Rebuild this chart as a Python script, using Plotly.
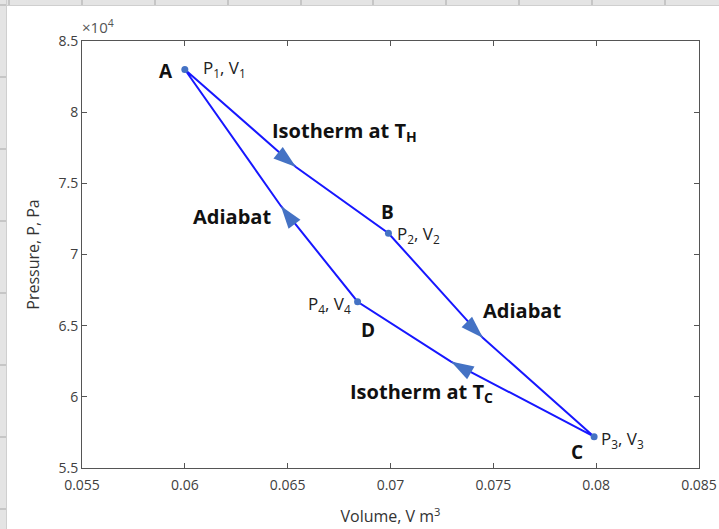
import plotly.graph_objects as go

# ---- data ----
state_names = ["A", "B", "C", "D"]
state_labels = ["P<sub>1</sub>, V<sub>1</sub>", "P<sub>2</sub>, V<sub>2</sub>",
                "P<sub>3</sub>, V<sub>3</sub>", "P<sub>4</sub>, V<sub>4</sub>"]
V_state = [0.0600, 0.0699, 0.0799, 0.0684]     # m^3
P_state = [83000, 71490, 57200, 66680]         # Pa

# points on each process curve where the direction arrow tips sit (A->B, B->C, C->D, D->A)
process_names = ["Isotherm at T<sub>H</sub>", "Adiabat", "Isotherm at T<sub>C</sub>", "Adiabat"]
V_arrow = [0.0654, 0.0745, 0.07294, 0.06467]
P_arrow = [76150, 64130, 62480, 73410]

x_ticks = [0.055, 0.06, 0.065, 0.07, 0.075, 0.08, 0.085]
x_ticklabels = ["0.055", "0.06", "0.065", "0.07", "0.075", "0.08", "0.085"]
y_ticks = [55000, 60000, 65000, 70000, 75000, 80000, 85000]
y_ticklabels = ["5.5", "6", "6.5", "7", "7.5", "8", "8.5"]

LINE = "#1717ff"
MARK = "#4472c4"
FONT = "Open Sans"
W, H = 719, 529
ML, MR, MT, MB = 82, 20, 41, 61

fig = go.Figure()

# closed cycle path through states and arrow points
cx, cy = [], []
for i in range(4):
    cx += [V_state[i], V_arrow[i]]
    cy += [P_state[i], P_arrow[i]]
cx.append(V_state[0]); cy.append(P_state[0])
fig.add_trace(go.Scatter(x=cx, y=cy, mode="lines", line=dict(color=LINE, width=2),
                         hoverinfo="skip", showlegend=False))

# arrows, oriented along each process chord
for i in range(4):
    j = (i + 1) % 4
    dv = V_state[j] - V_state[i]
    dp = P_state[j] - P_state[i]
    fig.add_trace(go.Scatter(
        x=[V_arrow[i] - 0.1 * dv, V_arrow[i]],
        y=[P_arrow[i] - 0.1 * dp, P_arrow[i]],
        mode="markers",
        marker=dict(symbol="arrow", angleref="previous", size=[0, 24], color=MARK,
                    opacity=1, line=dict(width=0)),
        hoverinfo="skip", showlegend=False))

# state markers
fig.add_trace(go.Scatter(x=V_state, y=P_state, mode="markers",
                         marker=dict(size=7, color=MARK), showlegend=False))

ann = []
# letter labels (offsets in px)
letter_off = [(-10, -2, "right"), (-1, 21, "center"), (-17, -15, "center"), (10, -28, "center")]
for i, (dx, dy, xa) in enumerate(letter_off):
    ann.append(dict(x=V_state[i], y=P_state[i], text=state_names[i], showarrow=False,
                    xanchor=xa, yanchor="middle", xshift=dx, yshift=dy,
                    font=dict(family=FONT, size=19, color="#111111", weight="bold")))
label_off = [(16, 1, "left"), (7, -1, "left"), (5, -3, "left"), (-5, -3, "right")]
for i, (dx, dy, xa) in enumerate(label_off):
    ann.append(dict(x=V_state[i], y=P_state[i], text=state_labels[i], showarrow=False,
                    xanchor=xa, yanchor="middle", xshift=dx, yshift=dy,
                    font=dict(family=FONT, size=17, color="#222222")))
# label offsets relative to the arrow tips
proc_off = [(-26, 35, "left"), (-2, 28, "left"), (-103, -31, "left"), (-8, -11, "right")]
for i, (dx, dy, xa) in enumerate(proc_off):
    ann.append(dict(x=V_arrow[i], y=P_arrow[i], text=process_names[i], showarrow=False,
                    xanchor=xa, yanchor="middle", xshift=dx, yshift=dy,
                    font=dict(family=FONT, size=20, color="#111111", weight="bold")))
# exponent label
ann.append(dict(x=0, y=1, xref="paper", yref="paper", text="×10<sup>4</sup>", showarrow=False,
                xanchor="left", yanchor="bottom", xshift=-2, yshift=2,
                font=dict(family=FONT, size=15, color="#555555")))

# spreadsheet-like strips around the figure
def px2x(px):
    return (px - ML) / (W - ML - MR)

def py2y(py):
    return 1 - (py - MT) / (H - MT - MB)

shapes = []
shapes.append(dict(type="rect", xref="paper", yref="paper", x0=px2x(0), x1=px2x(W),
                   y0=py2y(0), y1=py2y(5), fillcolor="#e4e4e4", line=dict(width=0), layer="below"))
shapes.append(dict(type="rect", xref="paper", yref="paper", x0=px2x(0), x1=px2x(6),
                   y0=py2y(0), y1=py2y(H), fillcolor="#e4e4e4", line=dict(width=0), layer="below"))
shapes.append(dict(type="line", xref="paper", yref="paper", x0=px2x(6), x1=px2x(W),
                   y0=py2y(5.5), y1=py2y(5.5), line=dict(color="#cfcfcf", width=1)))
shapes.append(dict(type="line", xref="paper", yref="paper", x0=px2x(6.5), x1=px2x(6.5),
                   y0=py2y(0), y1=py2y(H), line=dict(color="#cfcfcf", width=1)))
for gx in [9, 82, 155, 228, 301, 373, 446, 519, 592, 665]:
    shapes.append(dict(type="line", xref="paper", yref="paper", x0=px2x(gx), x1=px2x(gx),
                       y0=py2y(0), y1=py2y(5), line=dict(color="#bdbdbd", width=1.5)))
for gy in [5, 77, 149, 221, 293, 365, 437, 509]:
    shapes.append(dict(type="line", xref="paper", yref="paper", x0=px2x(0), x1=px2x(6),
                       y0=py2y(gy), y1=py2y(gy), line=dict(color="#bdbdbd", width=1.5)))

axis_common = dict(showgrid=False, zeroline=False, ticks="inside", ticklen=5, tickwidth=1,
                   tickcolor="#555555", showline=True, linecolor="#555555", linewidth=1,
                   mirror="ticks", automargin=False,
                   tickfont=dict(family=FONT, size=14, color="#404040"))

fig.update_layout(
    width=W, height=H,
    margin=dict(l=ML, r=MR, t=MT, b=MB, autoexpand=False),
    paper_bgcolor="white", plot_bgcolor="white",
    xaxis=dict(range=[0.055, 0.085], tickvals=x_ticks, ticktext=x_ticklabels,
               ticklabelstandoff=4,
               title=dict(text="Volume, V m<sup>3</sup>", standoff=18,
                          font=dict(family=FONT, size=16, color="#333333")),
               **axis_common),
    yaxis=dict(range=[55000, 85000], tickvals=y_ticks, ticktext=y_ticklabels,
               title=dict(text="Pressure, P, Pa", standoff=14,
                          font=dict(family=FONT, size=16, color="#333333")),
               **axis_common),
    annotations=ann,
    shapes=shapes,
)

fig.write_html("out.html", config={"displayModeBar": False},
               post_script="document.body.style.margin='0px';document.body.style.overflow='hidden';")
